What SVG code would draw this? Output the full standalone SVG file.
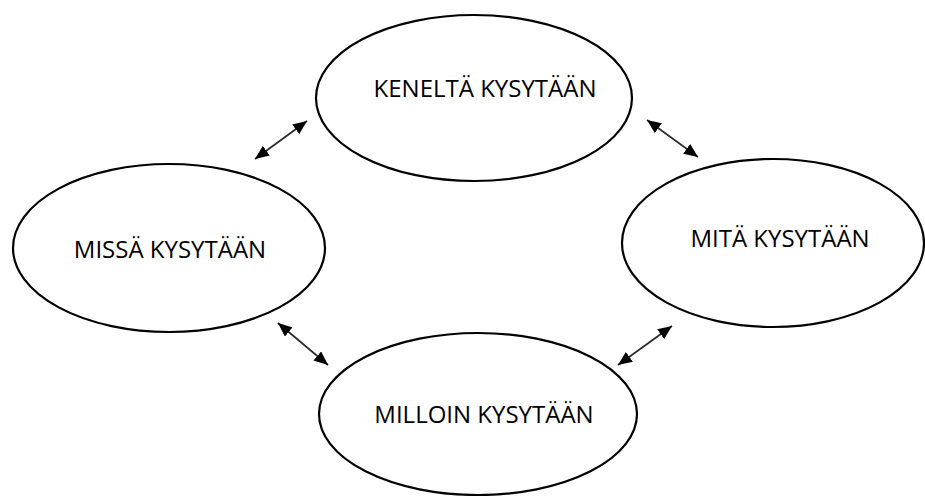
<svg xmlns="http://www.w3.org/2000/svg" width="925" height="496" viewBox="0 0 925 496">
  <style>
    .node ellipse { fill: #ffffff; stroke: #000000; stroke-width: 2.2; }
    .node text { font-family: "Open Sans", "Liberation Sans", sans-serif; font-size: 24px; fill: #000000; text-anchor: middle; }
    .link { stroke: #2a2a2a; stroke-width: 1.7; fill: none; marker-start: url(#head); marker-end: url(#head); }
  </style>
  <defs>
    <!-- solid triangular head, used at both ends of each two-way connector -->
    <marker id="head" viewBox="0 0 14 12" refX="14" refY="6" markerWidth="14" markerHeight="12" markerUnits="userSpaceOnUse" orient="auto-start-reverse">
      <path d="M0,0 L14,6 L0,12 z" fill="#000000"/>
    </marker>
  </defs>
  <rect width="925" height="496" fill="#ffffff"/>

  <g id="connectors">
    <line class="link" x1="255" y1="159" x2="307" y2="121"/>
    <line class="link" x1="647" y1="120" x2="698" y2="157"/>
    <line class="link" x1="278" y1="323" x2="328" y2="365"/>
    <line class="link" x1="618" y1="365" x2="672" y2="326"/>
  </g>

  <g id="keneltä" class="node">
    <ellipse cx="474" cy="98" rx="158" ry="83"/>
    <text x="485" y="97">KENELTÄ KYSYTÄÄN</text>
  </g>

  <g id="missä" class="node">
    <ellipse cx="169" cy="248" rx="156" ry="84"/>
    <text x="170" y="258">MISSÄ KYSYTÄÄN</text>
  </g>

  <g id="mitä" class="node">
    <ellipse cx="773" cy="243" rx="151" ry="84"/>
    <text x="780" y="247">MITÄ KYSYTÄÄN</text>
  </g>

  <g id="milloin" class="node">
    <ellipse cx="478" cy="414" rx="159" ry="81"/>
    <text x="484" y="423">MILLOIN KYSYTÄÄN</text>
  </g>
</svg>
